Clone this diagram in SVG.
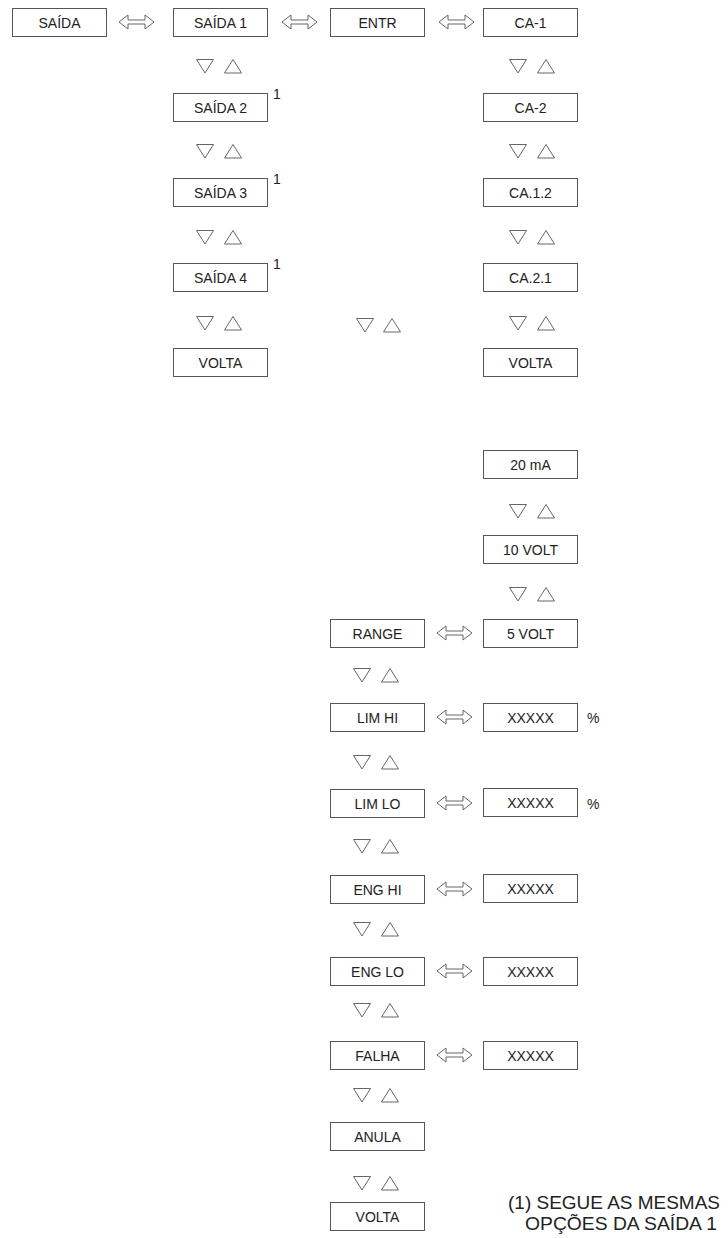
<svg xmlns="http://www.w3.org/2000/svg" xmlns:xlink="http://www.w3.org/1999/xlink" width="728" height="1238" viewBox="0 0 728 1238">
<style>
.box{fill:#fff;stroke:#555;stroke-width:1}
.lbl{font-family:"Liberation Sans",Arial,sans-serif;font-size:14px;fill:#222;text-anchor:middle}
.sup{font-family:"Liberation Sans",Arial,sans-serif;font-size:14px;fill:#222}
.tri{fill:#fff;stroke:#666;stroke-width:1}
.arr{fill:#fff;stroke:#666;stroke-width:1}
.note{font-family:"Liberation Sans",Arial,sans-serif;font-size:19px;fill:#222}
</style>
<defs>
<path id="dn" d="M0.5,0.5 L17.5,0.5 L9,14 Z"/>
<path id="up" d="M9,0.5 L17.5,14 L0.5,14 Z"/>
<path id="dbl" d="M0,7 L9,0 L9,5 L26,5 L26,0 L35,7 L26,14 L26,9 L9,9 L9,14 Z"/>
</defs>
<g id="connectors">
<use href="#dbl" class="arr" x="119" y="15"/>
<use href="#dbl" class="arr" x="282" y="15"/>
<use href="#dbl" class="arr" x="439" y="15"/>
<use href="#dbl" class="arr" x="437" y="626"/>
<use href="#dbl" class="arr" x="437" y="710"/>
<use href="#dbl" class="arr" x="437" y="796"/>
<use href="#dbl" class="arr" x="437" y="882"/>
<use href="#dbl" class="arr" x="437" y="964"/>
<use href="#dbl" class="arr" x="437" y="1048"/>
<use href="#dn" class="tri" x="196" y="59"/><use href="#up" class="tri" x="224" y="59"/>
<use href="#dn" class="tri" x="196" y="144"/><use href="#up" class="tri" x="224" y="144"/>
<use href="#dn" class="tri" x="196" y="230"/><use href="#up" class="tri" x="224" y="230"/>
<use href="#dn" class="tri" x="196" y="316"/><use href="#up" class="tri" x="224" y="316"/>
<use href="#dn" class="tri" x="356" y="318"/><use href="#up" class="tri" x="383" y="318"/>
<use href="#dn" class="tri" x="509" y="59"/><use href="#up" class="tri" x="537" y="59"/>
<use href="#dn" class="tri" x="509" y="144"/><use href="#up" class="tri" x="537" y="144"/>
<use href="#dn" class="tri" x="509" y="230"/><use href="#up" class="tri" x="537" y="230"/>
<use href="#dn" class="tri" x="509" y="316"/><use href="#up" class="tri" x="537" y="316"/>
<use href="#dn" class="tri" x="509" y="504"/><use href="#up" class="tri" x="537" y="504"/>
<use href="#dn" class="tri" x="509" y="587"/><use href="#up" class="tri" x="537" y="587"/>
<use href="#dn" class="tri" x="353" y="668"/><use href="#up" class="tri" x="381" y="668"/>
<use href="#dn" class="tri" x="353" y="755"/><use href="#up" class="tri" x="381" y="755"/>
<use href="#dn" class="tri" x="353" y="839"/><use href="#up" class="tri" x="381" y="839"/>
<use href="#dn" class="tri" x="353" y="922"/><use href="#up" class="tri" x="381" y="922"/>
<use href="#dn" class="tri" x="353" y="1003"/><use href="#up" class="tri" x="381" y="1003"/>
<use href="#dn" class="tri" x="353" y="1088"/><use href="#up" class="tri" x="381" y="1088"/>
<use href="#dn" class="tri" x="353" y="1176"/><use href="#up" class="tri" x="381" y="1176"/>
</g>
<g id="n-saida"><rect class="box" x="12.5" y="8.5" width="94" height="28"/><text class="lbl" x="59.5" y="27.5">SAÍDA</text></g>
<g id="n-saida1"><rect class="box" x="173.5" y="8.5" width="94" height="28"/><text class="lbl" x="220.5" y="27.5">SAÍDA 1</text></g>
<g id="n-saida2"><rect class="box" x="173.5" y="93.5" width="94" height="28"/><text class="lbl" x="220.5" y="112.5">SAÍDA 2</text><text class="sup" x="273" y="99">1</text></g>
<g id="n-saida3"><rect class="box" x="173.5" y="178.5" width="94" height="28"/><text class="lbl" x="220.5" y="197.5">SAÍDA 3</text><text class="sup" x="273" y="184">1</text></g>
<g id="n-saida4"><rect class="box" x="173.5" y="263.5" width="94" height="28"/><text class="lbl" x="220.5" y="282.5">SAÍDA 4</text><text class="sup" x="273" y="269">1</text></g>
<g id="n-volta1"><rect class="box" x="173.5" y="348.5" width="94" height="28"/><text class="lbl" x="220.5" y="367.5">VOLTA</text></g>
<g id="n-entr"><rect class="box" x="330.5" y="8.5" width="94" height="28"/><text class="lbl" x="377.5" y="27.5">ENTR</text></g>
<g id="n-ca1"><rect class="box" x="483.5" y="8.5" width="94" height="28"/><text class="lbl" x="530.5" y="27.5">CA-1</text></g>
<g id="n-ca2"><rect class="box" x="483.5" y="93.5" width="94" height="28"/><text class="lbl" x="530.5" y="112.5">CA-2</text></g>
<g id="n-ca12"><rect class="box" x="483.5" y="178.5" width="94" height="28"/><text class="lbl" x="530.5" y="197.5">CA.1.2</text></g>
<g id="n-ca21"><rect class="box" x="483.5" y="263.5" width="94" height="28"/><text class="lbl" x="530.5" y="282.5">CA.2.1</text></g>
<g id="n-volta2"><rect class="box" x="483.5" y="348.5" width="94" height="28"/><text class="lbl" x="530.5" y="367.5">VOLTA</text></g>
<g id="n-20ma"><rect class="box" x="483.5" y="450.5" width="94" height="28"/><text class="lbl" x="530.5" y="469.5">20 mA</text></g>
<g id="n-10volt"><rect class="box" x="483.5" y="535.5" width="94" height="28"/><text class="lbl" x="530.5" y="554.5">10 VOLT</text></g>
<g id="n-5volt"><rect class="box" x="483.5" y="619.5" width="94" height="28"/><text class="lbl" x="530.5" y="638.5">5 VOLT</text></g>
<g id="n-range"><rect class="box" x="330.5" y="619.5" width="94" height="28"/><text class="lbl" x="377.5" y="638.5">RANGE</text></g>
<g id="n-limhi"><rect class="box" x="330.5" y="703.5" width="94" height="28"/><text class="lbl" x="377.5" y="722.5">LIM HI</text></g>
<g id="v-limhi"><rect class="box" x="483.5" y="703.5" width="94" height="28"/><text class="lbl" x="530.5" y="722.5">XXXXX</text><text class="sup" x="587" y="723">%</text></g>
<g id="n-limlo"><rect class="box" x="330.5" y="789.5" width="94" height="28"/><text class="lbl" x="377.5" y="808.5">LIM LO</text></g>
<g id="v-limlo"><rect class="box" x="483.5" y="788.5" width="94" height="28"/><text class="lbl" x="530.5" y="807.5">XXXXX</text><text class="sup" x="587" y="809">%</text></g>
<g id="n-enghi"><rect class="box" x="330.5" y="875.5" width="94" height="28"/><text class="lbl" x="377.5" y="894.5">ENG HI</text></g>
<g id="v-enghi"><rect class="box" x="483.5" y="874.5" width="94" height="28"/><text class="lbl" x="530.5" y="893.5">XXXXX</text></g>
<g id="n-englo"><rect class="box" x="330.5" y="957.5" width="94" height="28"/><text class="lbl" x="377.5" y="976.5">ENG LO</text></g>
<g id="v-englo"><rect class="box" x="483.5" y="957.5" width="94" height="28"/><text class="lbl" x="530.5" y="976.5">XXXXX</text></g>
<g id="n-falha"><rect class="box" x="330.5" y="1041.5" width="94" height="28"/><text class="lbl" x="377.5" y="1060.5">FALHA</text></g>
<g id="v-falha"><rect class="box" x="483.5" y="1041.5" width="94" height="28"/><text class="lbl" x="530.5" y="1060.5">XXXXX</text></g>
<g id="n-anula"><rect class="box" x="330.5" y="1122.5" width="94" height="28"/><text class="lbl" x="377.5" y="1141.5">ANULA</text></g>
<g id="n-volta3"><rect class="box" x="330.5" y="1202.5" width="94" height="28"/><text class="lbl" x="377.5" y="1221.5">VOLTA</text></g>
<g id="footnote">
<text class="note" x="508" y="1209" textLength="212" lengthAdjust="spacingAndGlyphs">(1) SEGUE AS MESMAS</text>
<text class="note" x="525" y="1230" textLength="192" lengthAdjust="spacingAndGlyphs">OPÇÕES DA SAÍDA 1</text>
</g>
</svg>
